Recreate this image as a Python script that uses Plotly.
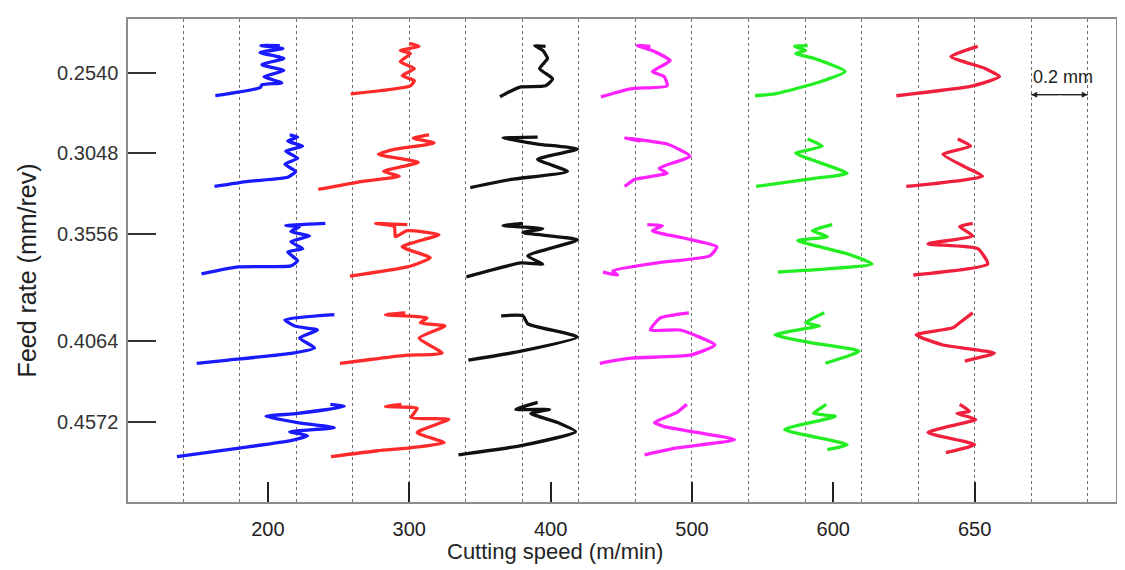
import plotly.graph_objects as go

# Categories
speed_labels = ["200", "300", "400", "500", "600", "650"]          # cutting speed (m/min)
speed_pos_um = [500, 1000, 1500, 2000, 2500, 3000]                 # column centre (um on x axis)
feed_labels = ["0.2540", "0.3048", "0.3556", "0.4064", "0.4572"]   # feed rate (mm/rev)
feed_pos_um = [200, 500, 800, 1200, 1500]                          # row centre (um on y axis)
line_colors = ["#1a1aff", "#ff2a2a", "#111111", "#ff22ff", "#22ee22", "#f0203c"]

# Surface profiles: offsets (um) from each cell centre, one sub-list per feed rate
v200_dx = [[-186, -28, -21, 49, -14, 56, -21, 56, -28, 53, -25, 42],
           [-189, -70, 70, 98, 60, 105, 63, 123, 70, 105, 77],
           [-235, -105, 81, 105, 70, 123, 81, 147, 81, 112, 63, 203],
           [-252, -140, 88, 165, 112, 175, 95, 60, 235],
           [-322, -95, 81, 140, 77, 235, 105, -7, 105, 270, 221]]
v200_dy = [[86, 56, 45, 38, 15, -8, -30, -53, -75, -90, -101, -101],
           [124, 105, 90, 68, 41, 19, -8, -26, -45, -60, -68],
           [150, 124, 120, 101, 68, 56, 30, 8, -8, -26, -30, -38],
           [83, 71, 45, 26, -11, -41, -56, -79, -98],
           [131, 98, 71, 53, 38, 23, 4, -19, -30, -56, -64]]

v300_dx = [[-207, 4, 18, -25, 18, -32, 4, -32, 35, 0],
           [-322, -165, -35, -91, 32, -109, -49, 88, 14, 70],
           [-210, -7, 74, -25, 105, -7, -49, -53, -119, -7],
           [-245, -130, -7, 116, 35, 126, 39, 63, -84, -14],
           [-277, -112, 4, 123, 28, 140, 7, 28, -84, -28]]
v300_dy = [[79, 49, 30, 11, -15, -41, -71, -83, -98, -109],
           [135, 105, 86, 68, 34, 4, -15, -38, -56, -68],
           [158, 124, 90, 49, 4, -11, 11, -26, -38, -34],
           [83, 68, 53, 45, -11, -56, -68, -86, -98, -105],
           [131, 109, 98, 79, 41, -8, -15, -49, -56, -64]]

v400_dx = [[-179, -140, -105, -18, 7, -39, -11, -28, -56, -18],
           [-284, -140, 60, -46, 95, -46, -168, -46],
           [-298, -105, -28, -81, 95, -98, -28, -168, -98],
           [-291, -105, 95, -81, -98, -175],
           [-326, -105, 88, 25, -70, -4, -123, -46]]
v400_dy = [[90, 68, 53, 49, 23, -15, -53, -83, -101, -98],
           [128, 98, 68, 23, -15, -34, -56, -60],
           [161, 109, 113, 83, 23, -4, -19, -30, -38],
           [71, 38, -15, -64, -94, -94],
           [124, 90, 38, 4, -30, -45, -45, -71]]

v500_dx = [[-322, -217, -88, -98, -140, -105, -77, -133, -193, -147],
           [-238, -203, -88, -116, -7, -88, -235, -182],
           [-315, -263, -280, -123, 63, 88, -18, -140, -105, -158],
           [-326, -217, -7, 81, -42, -147, -112, -11],
           [-168, -53, 151, -98, -133, -53, -18]]
v500_dy = [[90, 60, 49, 15, -4, -26, -45, -79, -101, -98],
           [124, 98, 75, 56, 11, -34, -56, -45],
           [143, 154, 139, 109, 83, 49, 19, -11, -30, -34],
           [83, 64, 53, 15, -41, -41, -86, -105],
           [124, 98, 68, 19, 4, -34, -64]]

v600_dx = [[-277, -207, -46, 42, -67, -133, -98, -137, -91],
           [-273, -67, 49, -81, -133, -39, -91],
           [-196, -21, 137, 49, -126, -21, -74, -4],
           [-28, 91, -70, -207, -105, -49, -98, -32],
           [-21, 49, -172, 7, -70, -46, -25]]
v600_dy = [[86, 79, 34, -4, -53, -71, -83, -98, -101],
           [124, 94, 75, 23, 0, -26, -53],
           [143, 131, 113, 75, 26, 11, -11, -34],
           [83, 38, 8, -23, -45, -56, -68, -105],
           [105, 86, 30, -19, -30, -49, -64]]

v650_dx = [[-277, -7, 88, 39, -84, 11],
           [-242, 28, -25, -112, -14, -60],
           [-217, 46, 11, -165, -7, -53, -7],
           [-35, 70, -112, -207, -77, -53, -7],
           [-102, 0, -165, 4, -63, -18, -53]]
v650_dy = [[86, 49, 15, -15, -60, -98],
           [124, 86, 56, 4, -26, -53],
           [154, 113, 56, 38, 8, -26, -38],
           [75, 45, 15, -23, -49, -68, -105],
           [116, 86, 41, -8, -30, -38, -64]]

scale_bar_um = [3200, 3400]
scale_bar_y = [282, 282]
scale_bar_label = "0.2 mm"
grid_step_um = 200
right_ticks = [400, 600, 800, 1000, 1200, 1400, 1600]

all_dx = [v200_dx, v300_dx, v400_dx, v500_dx, v600_dx, v650_dx]
all_dy = [v200_dy, v300_dy, v400_dy, v500_dy, v600_dy, v650_dy]

fig = go.Figure()
for ci, (cx, col) in enumerate(zip(speed_pos_um, line_colors)):
    for ri, ry in enumerate(feed_pos_um):
        xs = [cx + d for d in all_dx[ci][ri]]
        ys = [ry + d for d in all_dy[ci][ri]]
        fig.add_trace(go.Scatter(x=xs, y=ys, mode="lines",
                                 line=dict(color=col, width=3.3, shape="spline",
                                           smoothing=0.5),
                                 showlegend=False, hoverinfo="skip"))

# scale bar line (drawn on the 0.2 mm grid axis)
fig.add_trace(go.Scatter(x=scale_bar_um, y=scale_bar_y, xaxis="x2", yaxis="y",
                         mode="lines", line=dict(color="#222", width=1.2),
                         showlegend=False, hoverinfo="skip"))

font = "Liberation Sans, Arial, sans-serif"
# the page body adds an 8 px offset, so the figure is 8 px smaller each way
fig.update_layout(
    width=1117, height=562,
    margin=dict(l=120, r=9, t=11, b=68, autoexpand=False),
    paper_bgcolor="white", plot_bgcolor="white",
    showlegend=False,
    font=dict(family=font, color="#222"),
    xaxis=dict(range=[5, 3500], tickmode="array", tickvals=speed_pos_um,
               ticktext=speed_labels, ticks="inside", ticklen=20, tickwidth=2,
               tickcolor="#222", showgrid=False, zeroline=False, automargin=False,
               showline=True, mirror=True, linecolor="#8c8c8c", linewidth=1.5,
               tickfont=dict(size=20, color="#222"), ticklabelstandoff=8),
    xaxis2=dict(range=[5, 3500], overlaying="x", anchor="y", tick0=0,
                dtick=grid_step_um, showgrid=True, griddash="dot",
                gridcolor="#6e6e6e", gridwidth=1, showticklabels=False,
                ticks="", zeroline=False, showline=False, automargin=False),
    yaxis=dict(range=[1800, 0], tickmode="array", tickvals=feed_pos_um,
               ticktext=feed_labels, ticks="inside", ticklen=28, tickwidth=1.5,
               tickcolor="#333", showgrid=False, zeroline=False, automargin=False,
               showline=True, mirror=True, linecolor="#8c8c8c", linewidth=1.5,
               tickfont=dict(size=20, color="#333"), ticklabelstandoff=4),
    yaxis2=dict(range=[1800, 0], overlaying="y", anchor="x", side="right",
                tickmode="array", tickvals=right_ticks, ticks="inside",
                ticklen=7, tickcolor="#777", showticklabels=False, automargin=False,
                showgrid=False, zeroline=False, showline=False),
)

# axis titles
fig.add_annotation(text="Cutting speed (m/min)", xref="paper", yref="paper",
                   x=0.432, y=-0.102, xanchor="center", yanchor="middle",
                   showarrow=False, font=dict(size=22, color="#222", family=font))
fig.add_annotation(text="Feed rate (mm/rev)", xref="paper", yref="paper",
                   x=-0.102, y=0.48, xanchor="center", yanchor="middle",
                   textangle=-90, showarrow=False,
                   font=dict(size=25, color="#222", family=font))

# scale bar
fig.add_annotation(text=scale_bar_label, x=scale_bar_um[0], y=215, xref="x2", yref="y",
                   xanchor="left", yanchor="middle", showarrow=False,
                   font=dict(size=18, color="#222", family=font))
mid = (scale_bar_um[0] + scale_bar_um[1]) / 2
for end in scale_bar_um:
    fig.add_annotation(x=end, y=scale_bar_y[0], ax=mid, ay=scale_bar_y[0],
                       xref="x2", yref="y", axref="x2", ayref="y", text="",
                       showarrow=True, arrowhead=2, arrowsize=1, arrowwidth=1.2,
                       arrowcolor="#222", standoff=0, startstandoff=0)

fig.write_html("out.html")
